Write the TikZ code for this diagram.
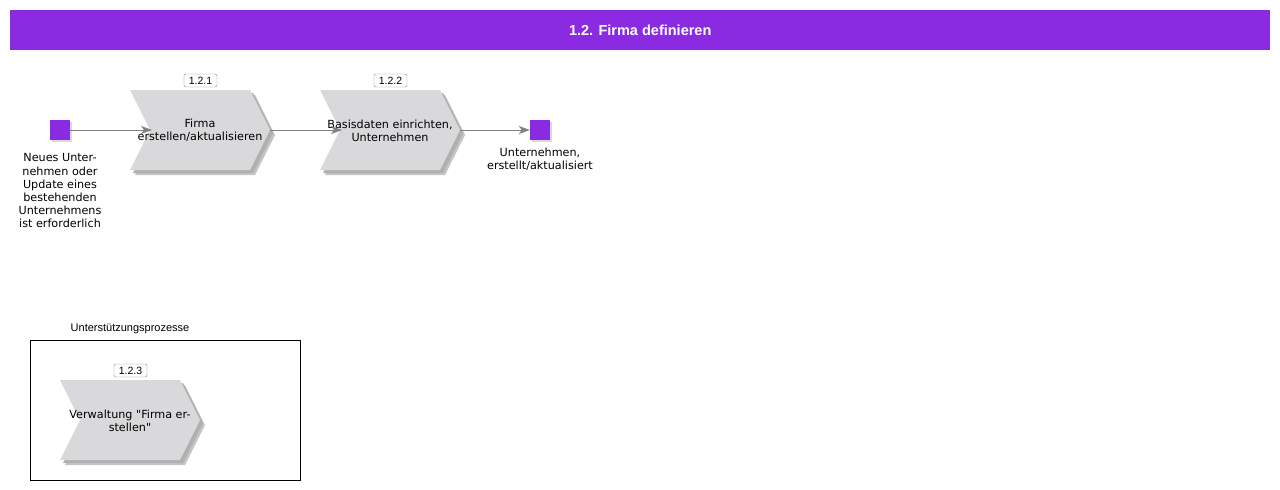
\documentclass[tikz,border=0pt]{standalone}
\usepackage{fontspec}
\setmainfont{DejaVu Sans}
\newfontfamily\djq{DejaVu Sans}
\newfontfamily\arial{Liberation Sans}
\usetikzlibrary{arrows.meta,calc}
\definecolor{purp}{HTML}{8A2BE2}
\definecolor{chevfill}{HTML}{D9D9DB}
\definecolor{shad}{HTML}{C4C4C4}
\definecolor{shadin}{HTML}{B0B0B0}
\definecolor{conncol}{HTML}{808080}
\newcommand\chevshape[3]{%
  \begin{scope}[shift={(#1,#2)}]
    \fill[shad] (5,5) -- (125,5) -- (145,45) -- (125,85) -- (5,85) -- (25,45) -- cycle;
    \fill[shadin] (3,3) -- (123,3) -- (143,43) -- (123,83) -- (3,83) -- (23,43) -- cycle;
    \fill[chevfill] (0,0) -- (120,0) -- (140,40) -- (120,80) -- (0,80) -- (20,40) -- cycle;
    \coordinate (#3-in) at (22,40);
    \coordinate (#3-out) at (140,40);
  \end{scope}}
\begin{document}
\begin{tikzpicture}[x=1pt,y=-1pt,
  chevtext/.style={align=center,font=\fontsize{11.2}{13.2}\selectfont,inner sep=0pt},
  evtext/.style={align=center,font=\fontsize{11.2}{13.2}\selectfont,inner sep=0pt,anchor=north},
  idbox/.style={draw=black!45,rounded corners=1.5pt,fill=white,font=\arial\fontsize{10.5}{12}\selectfont,minimum width=33pt,minimum height=13pt,inner sep=0pt},
  event/.style={fill=purp,minimum size=20pt,inner sep=0pt,draw=none},
  evshadow/.style={fill=black!15,minimum size=20pt,inner sep=0pt,draw=none},
  connector/.style={draw=conncol,line width=0.8pt,-{Stealth[length=11pt,width=8pt,inset=3pt]}}
]
\useasboundingbox (0,0) rectangle (1280,490);
\node[fill=purp,minimum width=1260pt,minimum height=40pt,inner sep=0pt,anchor=north west,text=white,font=\arial\bfseries\fontsize{14.5}{16}\selectfont] (title) at (10,10) {1.2. Firma definieren};

% chevrons
\chevshape{130}{90}{p1}
\chevshape{320}{90}{p2}
\node[chevtext] (t1) at (200,130.5) {Firma\\erstellen/aktualisieren};
\node[chevtext] (t2) at (390,130.5) {Basisdaten einrichten,\\Unternehmen};
\node[idbox] (id1) at (200.5,80.5) {1.2.1};
\node[idbox] (id2) at (390.5,80.5) {1.2.2};

% events
\node[evshadow] at (62,132) {};
\node[event] (e1) at (60,130) {};
\node[evshadow] at (542,132) {};
\node[event] (e2) at (540,130) {};
\node[evtext] (et1) at (60,153.5) {Neues Unter-\\nehmen oder\\Update eines\\bestehenden\\Unternehmens\\ist erforderlich};
\node[evtext] (et2) at (540,147.5) {Unternehmen,\\erstellt/aktualisiert};

% connectors
\draw[connector] (e1.east) -- (p1-in);
\draw[connector] (p1-out) -- (p2-in);
\draw[connector] (p2-out) -- (e2.west);

% support processes
\node[draw=black,line width=0.8pt,minimum width=270pt,minimum height=140pt,inner sep=0pt,anchor=north west] (sup) at (30,340) {};
\node[font=\arial\fontsize{11}{13}\selectfont,inner sep=0pt] (suptitle) at (130,329) {Unterstützungsprozesse};
\chevshape{60}{380}{p3}
\node[chevtext,font=\djq\fontsize{11.2}{13.2}\selectfont] (t3) at (130,420.5) {Verwaltung "Firma er-\\stellen"};
\node[idbox] (id3) at (130.5,370.5) {1.2.3};
\end{tikzpicture}
\end{document}
